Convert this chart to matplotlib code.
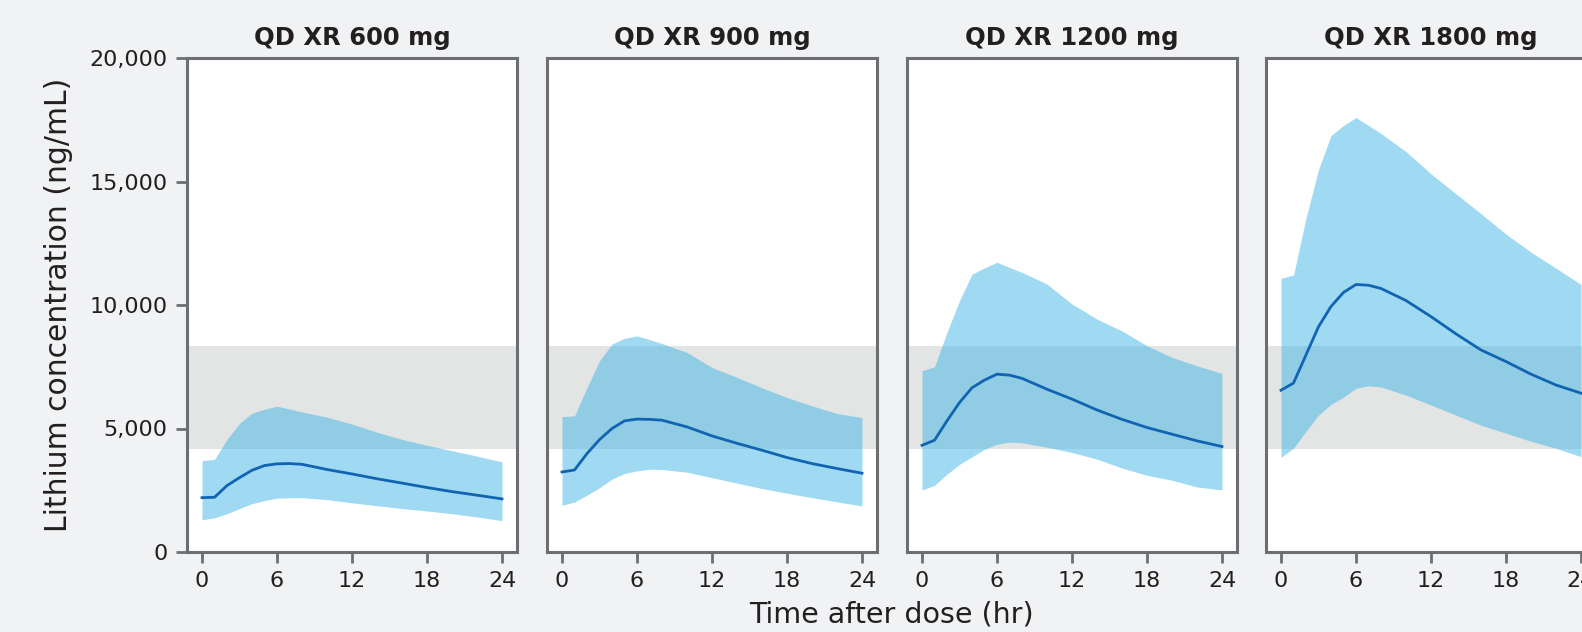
import matplotlib
matplotlib.use("Agg")
import matplotlib.pyplot as plt

# ---- data ----
titles = ["QD XR 600 mg", "QD XR 900 mg", "QD XR 1200 mg", "QD XR 1800 mg"]
time_hr = [0, 1, 2, 3, 4, 5, 6, 7, 8, 10, 12, 14, 16, 18, 20, 22, 24]

upper_600 = [3700, 3750, 4560, 5210, 5620, 5780, 5900, 5790, 5670, 5460, 5180, 4850, 4560, 4320, 4100, 3880, 3650]
median_600 = [2200, 2215, 2690, 3010, 3310, 3500, 3570, 3580, 3550, 3340, 3160, 2965, 2790, 2610, 2445, 2300, 2150]
lower_600 = [1300, 1385, 1550, 1760, 1955, 2085, 2180, 2195, 2200, 2120, 1990, 1875, 1760, 1660, 1550, 1420, 1270]

upper_900 = [5485, 5510, 6660, 7740, 8420, 8650, 8750, 8600, 8440, 8080, 7470, 7070, 6650, 6255, 5920, 5610, 5445]
median_900 = [3240, 3320, 3985, 4550, 5000, 5310, 5380, 5370, 5335, 5065, 4700, 4400, 4120, 3825, 3580, 3380, 3190]
lower_900 = [1890, 2025, 2300, 2600, 2950, 3180, 3285, 3350, 3340, 3230, 3010, 2790, 2570, 2380, 2200, 2030, 1865]

upper_1200 = [7340, 7500, 8900, 10170, 11250, 11500, 11730, 11520, 11320, 10850, 10040, 9430, 8950, 8350, 7880, 7540, 7230]
median_1200 = [4320, 4525, 5310, 6050, 6650, 6960, 7200, 7160, 7030, 6590, 6190, 5750, 5370, 5040, 4770, 4500, 4270]
lower_1200 = [2510, 2700, 3150, 3550, 3850, 4160, 4365, 4450, 4420, 4240, 4030, 3760, 3400, 3105, 2905, 2635, 2510]

upper_1800 = [11080, 11210, 13520, 15480, 16860, 17270, 17590, 17270, 16940, 16210, 15310, 14500, 13700, 12870, 12140, 11490, 10830]
median_1800 = [6550, 6840, 7980, 9120, 9940, 10510, 10830, 10800, 10670, 10180, 9530, 8830, 8180, 7710, 7200, 6760, 6430]
lower_1800 = [3830, 4200, 4890, 5540, 5980, 6270, 6630, 6730, 6680, 6350, 5950, 5540, 5130, 4810, 4480, 4200, 3860]

uppers = [upper_600, upper_900, upper_1200, upper_1800]
medians = [median_600, median_900, median_1200, median_1800]
lowers = [lower_600, lower_900, lower_1200, lower_1800]

target_low, target_high = 4164, 8329
x_ticks = [0, 6, 12, 18, 24]
y_ticks = [0, 5000, 10000, 15000, 20000]
y_tick_labels = ["0", "5,000", "10,000", "15,000", "20,000"]

# ---- style ----
plt.rcParams['font.family'] = ['DejaVu Sans']
bg = '#f1f2f4'
frame = '#6d6e71'
text_c = '#231f20'

W, H = 1582, 632
fig = plt.figure(figsize=(W / 100, H / 100), dpi=100, facecolor=bg)

lefts_px = [187, 547, 907, 1266]
width_px = 330
top_px, bottom_px = 58, 552

axes = []
for i, lp in enumerate(lefts_px):
    ax = fig.add_axes([lp / W, 1 - bottom_px / H, width_px / W, (bottom_px - top_px) / H])
    ax.set_facecolor('white')
    ax.axhspan(target_low, target_high, color='#e3e5e4', zorder=0, lw=0)
    ax.fill_between(time_hr, lowers[i], uppers[i], color='#41b5e7', alpha=0.5, lw=0, zorder=1)
    ax.plot(time_hr, medians[i], color='#1164b2', lw=2.0, zorder=2,
            solid_joinstyle='round')
    ax.set_xlim(-1.2, 25.2)
    ax.set_ylim(0, 20000)
    ax.set_xticks(x_ticks)
    ax.set_xticklabels([str(t) for t in x_ticks])
    for s in ax.spines.values():
        s.set_color(frame)
        s.set_linewidth(2.2)
    ax.tick_params(axis='both', color=frame, width=2, length=8, labelsize=16,
                   labelcolor=text_c, pad=6)
    if i == 0:
        ax.set_yticks(y_ticks)
        ax.set_yticklabels(y_tick_labels)
    else:
        ax.set_yticks([])
    ax.set_title(titles[i], fontsize=17.5, fontweight='bold', color=text_c, pad=9)
    axes.append(ax)

axes[0].set_ylabel("Lithium concentration (ng/mL)", fontsize=21.5, color=text_c, labelpad=12)
fig.text((187 + 1596) / 2 / W, 1 - 614 / H, "Time after dose (hr)", fontsize=20.5,
         color=text_c, ha='center', va='center')

fig.savefig("out.png", dpi=100, facecolor=bg)
